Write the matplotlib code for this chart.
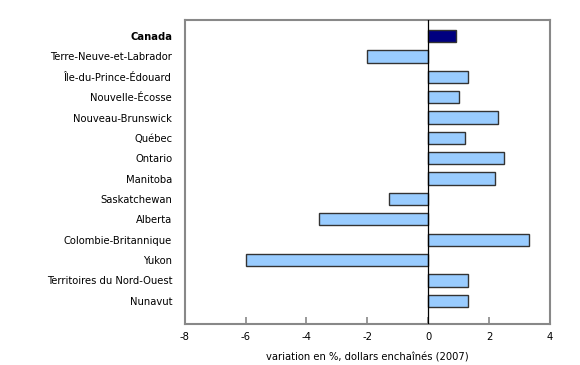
import matplotlib
matplotlib.use("Agg")
import matplotlib.pyplot as plt

# regions and growth (% chained 2007 dollars)
regions = ["Canada", "Terre-Neuve-et-Labrador", "Île-du-Prince-Édouard",
           "Nouvelle-Écosse", "Nouveau-Brunswick", "Québec", "Ontario",
           "Manitoba", "Saskatchewan", "Alberta", "Colombie-Britannique",
           "Yukon", "Territoires du Nord-Ouest", "Nunavut"]
values = [0.9, -2.0, 1.3, 1.0, 2.3, 1.2, 2.5, 2.2, -1.3, -3.6, 3.3, -6.0, 1.3, 1.3]
xticks = [-8, -6, -4, -2, 0, 2, 4]

colors = ["#000080"] + ["#99CCFF"] * (len(regions) - 1)

fig = plt.figure(figsize=(5.8, 3.65), dpi=100)
ax = fig.add_axes([0.3184, 0.1123, 0.630, 0.833])

pos = list(range(len(regions)))
ax.barh(pos, values, height=0.6, color=colors, edgecolor="#333333", linewidth=1.0, zorder=2)
ax.axvline(0, color="black", linewidth=0.9, zorder=3)

ax.set_xlim(-8, 4)
ax.set_ylim(14.14, -0.79)
ax.set_xticks(xticks)
ax.set_xticklabels([str(t) for t in xticks], fontsize=7.2)
ax.set_yticks(pos)
ax.set_yticklabels(regions, fontsize=7.2)
ax.get_yticklabels()[0].set_fontweight("bold")
ax.tick_params(axis="y", length=0, pad=9)
ax.tick_params(axis="x", direction="in", length=5, color="#888888", width=1.2, pad=6)
for s in ax.spines.values():
    s.set_color("#888888")
    s.set_linewidth(1.5)
ax.set_xlabel("variation en %, dollars enchaînés (2007)", fontsize=7.2, labelpad=7)

fig.savefig("out.png", dpi=100)
